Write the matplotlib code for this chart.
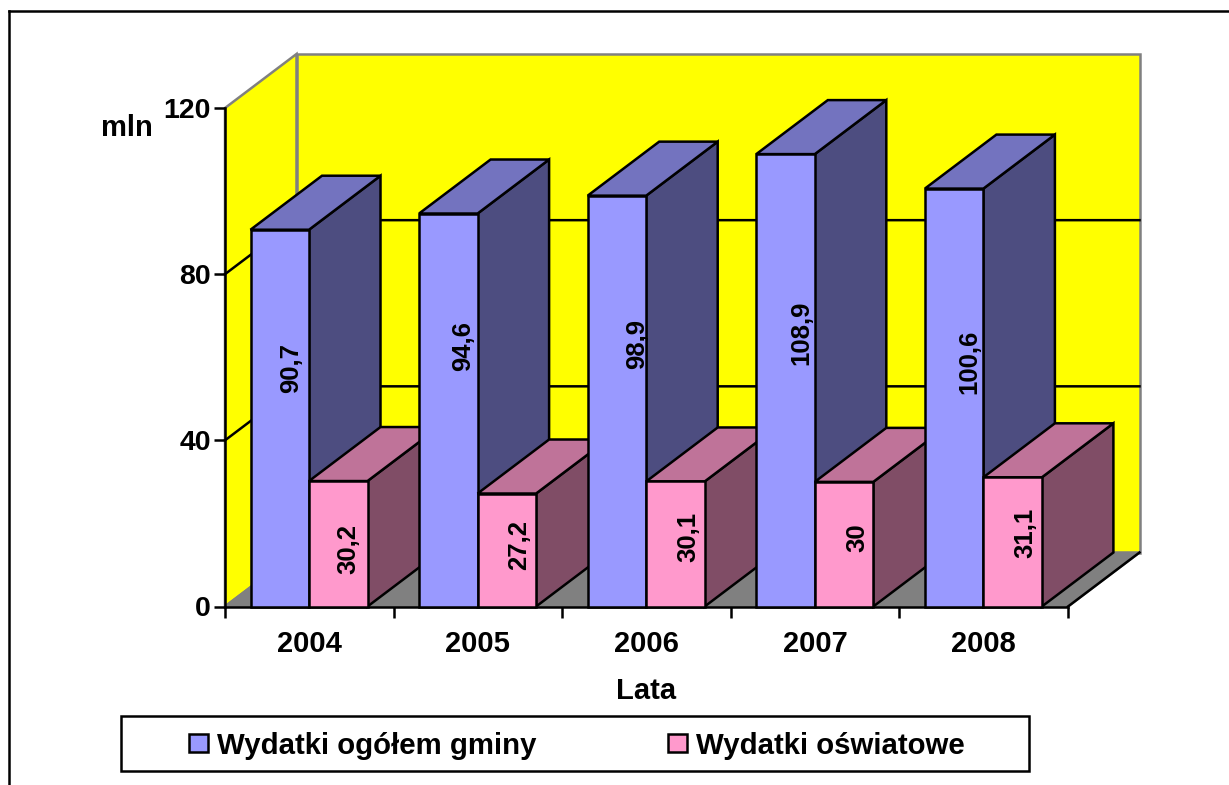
#!/usr/bin/env python
"""Wydatki gminy 2004-2008: fake-3D column chart, drawn with polygons on plain axes."""

import matplotlib
matplotlib.use("Agg")
import matplotlib.pyplot as plt
from matplotlib.patches import Polygon

YEARS = ["2004", "2005", "2006", "2007", "2008"]
WYDATKI_OGOLEM = [90.7, 94.6, 98.9, 108.9, 100.6]
WYDATKI_OSWIATOWE = [30.2, 27.2, 30.1, 30.0, 31.1]
Y_TICKS = [0, 40, 80, 120]

W, H = 1229, 785
LW = 1.8
BLUE = ("#9999ff", "#7373bf", "#4d4d80")
PINK = ("#ff99cc", "#bf7399", "#804d66")
GRAY = "#808080"

plt.rcParams["font.family"] = ["Liberation Sans", "DejaVu Sans"]
plt.rcParams["font.weight"] = "bold"

fig = plt.figure(figsize=(W / 100, H / 100), dpi=100)


def fx(px):
    return px / W


def fy(px):
    return 1 - px / H


# border of the chart area, cropped at the bottom and right in the source
fig.add_artist(plt.Line2D([fx(8.5), fx(8.5)], [0, fy(11)], color="k", lw=LW))
fig.add_artist(plt.Line2D([fx(8.5), 1], [fy(11), fy(11)], color="k", lw=LW))

# axes box is the front plane of the 3D box
ax = fig.add_axes([fx(225), fy(606.5), fx(1068 - 225), (606.5 - 108) / H])
ax.set_xlim(0, 5)
ax.set_ylim(0, 120)
ax.patch.set_visible(False)
for s in ax.spines.values():
    s.set_visible(False)

# depth of the box in data units
DX = 71.5 / (843 / 5)
DY = 54 / (498.5 / 120)
BAR_W = 58.5 / (843 / 5)
GAP = 25.5 / (843 / 5)


def poly(pts, color, edge="k", z=1, lw=LW):
    ax.add_patch(Polygon(pts, closed=True, facecolor=color, edgecolor=edge, linewidth=lw,
                         joinstyle="miter", zorder=z, clip_on=False))


# walls and floor
poly([(DX, DY), (5 + DX, DY), (5 + DX, 120 + DY), (DX, 120 + DY)], "yellow", GRAY, 1)
poly([(0, 0), (DX, DY), (DX, 120 + DY), (0, 120)], "yellow", GRAY, 1)
poly([(0, 0), (5, 0), (5 + DX, DY), (DX, DY)], GRAY, GRAY, 1)

# gridlines, side wall then back wall
for t in Y_TICKS[1:-1]:
    ax.plot([0, DX, 5 + DX], [t, t + DY, t + DY], color="k", lw=LW, zorder=2, clip_on=False)

ax.plot([0, 0], [0, 120], color="k", lw=LW, zorder=2, clip_on=False)
ax.plot([5, 5 + DX], [0, DY], color="k", lw=LW, zorder=2, clip_on=False)
ax.plot([0, 5], [0, 0], color="k", lw=LW, zorder=2, clip_on=False)


def column(x, v, colors, z):
    front, top, side = colors
    poly([(x + BAR_W, 0), (x + BAR_W + DX, DY), (x + BAR_W + DX, v + DY), (x + BAR_W, v)], side, z=z)
    poly([(x, v), (x + DX, v + DY), (x + BAR_W + DX, v + DY), (x + BAR_W, v)], top, z=z)
    poly([(x, 0), (x + BAR_W, 0), (x + BAR_W, v), (x, v)], front, z=z)


z = 3
for i, year in enumerate(YEARS):
    x = i + GAP
    column(x, WYDATKI_OGOLEM[i], BLUE, z)
    column(x + BAR_W, WYDATKI_OSWIATOWE[i], PINK, z + 1)
    z += 3

# value labels were placed by hand in the source, so they sit at their own pixel spots
blue_px = [(291, 368), (463, 346), (637, 344), (801, 333), (969, 362)]
pink_px = [(348, 549), (519, 545), (688, 537), (857, 538), (1025, 533)]
for vals, spots in [(WYDATKI_OGOLEM, blue_px), (WYDATKI_OSWIATOWE, pink_px)]:
    for v, (px, py) in zip(vals, spots):
        fig.text(fx(px), fy(py), f"{v:g}".replace(".", ","), rotation=90, ha="center",
                 va="center", fontsize=18.5, zorder=10)

ax.set_xticks(range(6))
ax.set_xticklabels([])
ax.set_yticks(Y_TICKS)
ax.tick_params(axis="both", length=8, width=LW, color="k", pad=2)
ax.tick_params(axis="y", labelsize=20.5)
for i, year in enumerate(YEARS):
    ax.text(i + 0.5, -9.0, year, ha="center", va="center", fontsize=21)

fig.text(fx(127), fy(128), "mln", ha="center", va="center", fontsize=21)
fig.text(fx(646), fy(691), "Lata", ha="center", va="center", fontsize=21)

# legend box, laid out by hand to match the source positions
fig.add_artist(plt.Rectangle((fx(121), fy(771)), fx(908), 55 / H, facecolor="white",
                             edgecolor="k", lw=LW))
for x0, color, label in [(189, BLUE[0], "Wydatki ogółem gminy"), (668, PINK[0], "Wydatki oświatowe")]:
    fig.add_artist(plt.Rectangle((fx(x0), fy(752)), fx(18.5), 18.5 / H, facecolor=color,
                                 edgecolor="k", lw=LW))
    fig.text(fx(x0 + 28), fy(746.5), label, ha="left", va="center", fontsize=21.2)

fig.savefig("out.png", dpi=100, facecolor="white")
